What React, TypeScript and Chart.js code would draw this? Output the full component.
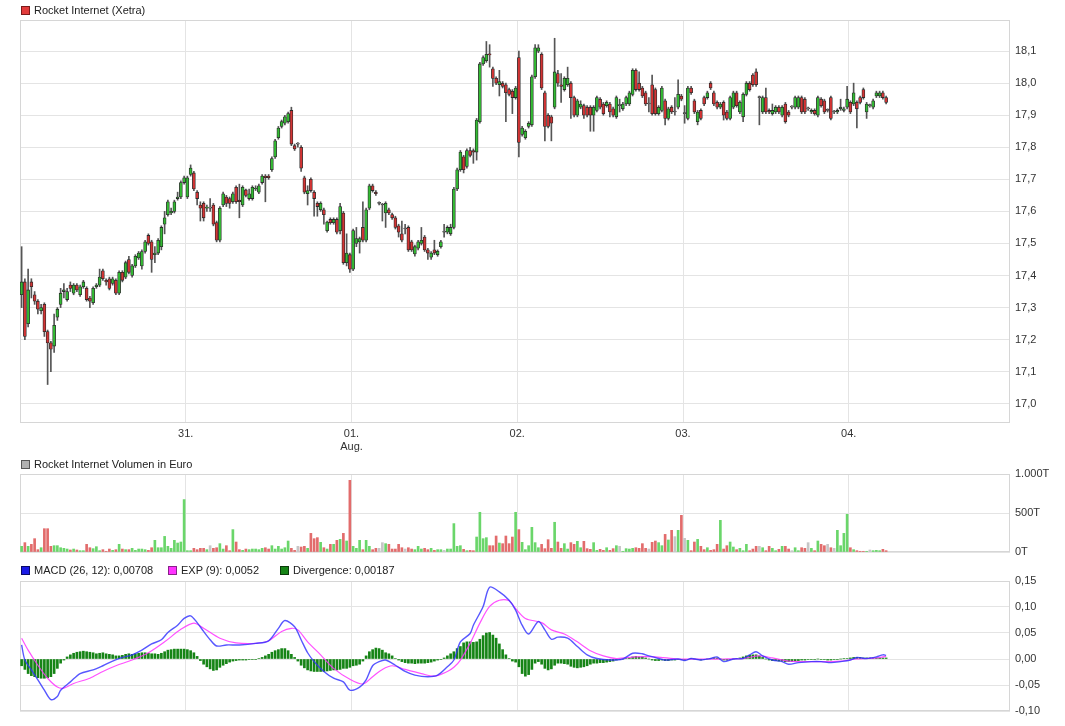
import React, { useEffect, useRef } from 'react';
import { Chart, registerables } from 'chart.js';

Chart.register(...registerables);

// ---------- DATA ----------
const dayTickPositions = [50.5, 101.5, 152.5, 203.5, 254.5];
const dayTickLabels: string[][] = [['31.'], ['01.', 'Aug.'], ['02.'], ['03.'], ['04.']];
const priceTicks = [17.0, 17.1, 17.2, 17.3, 17.4, 17.5, 17.6, 17.7, 17.8, 17.9, 18.0, 18.1];
const volumeTicks = [0, 500, 1000];
const volumeTickLabels = ['0T', '500T', '1.000T'];
const macdTicks = [-0.1, -0.05, 0, 0.05, 0.1, 0.15];

// [open, high, low, close] per 10-minute candle
const candleOHLC: number[][] = [
  [17.34, 17.49, 17.30, 17.38], [17.38, 17.39, 17.20, 17.21], [17.25, 17.42, 17.24, 17.355], [17.38, 17.39, 17.33, 17.365],
  [17.34, 17.35, 17.31, 17.32], [17.32, 17.325, 17.28, 17.295], [17.29, 17.31, 17.28, 17.30], [17.31, 17.315, 17.21, 17.225],
  [17.225, 17.23, 17.06, 17.19], [17.19, 17.195, 17.10, 17.17], [17.18, 17.28, 17.16, 17.245], [17.27, 17.30, 17.26, 17.295],
  [17.31, 17.36, 17.30, 17.345], [17.35, 17.375, 17.33, 17.355], [17.325, 17.36, 17.32, 17.35], [17.37, 17.38, 17.35, 17.36],
  [17.345, 17.375, 17.34, 17.37], [17.37, 17.375, 17.35, 17.355], [17.34, 17.37, 17.335, 17.365], [17.365, 17.385, 17.36, 17.38],
  [17.36, 17.365, 17.32, 17.325], [17.33, 17.335, 17.30, 17.32], [17.315, 17.365, 17.31, 17.36], [17.365, 17.375, 17.36, 17.37],
  [17.37, 17.42, 17.365, 17.395], [17.415, 17.42, 17.385, 17.39], [17.385, 17.39, 17.37, 17.38], [17.39, 17.395, 17.355, 17.36],
  [17.375, 17.395, 17.37, 17.39], [17.385, 17.39, 17.34, 17.345], [17.345, 17.415, 17.34, 17.41], [17.41, 17.415, 17.38, 17.385],
  [17.395, 17.445, 17.39, 17.44], [17.45, 17.46, 17.405, 17.41], [17.40, 17.435, 17.395, 17.43], [17.43, 17.465, 17.425, 17.46],
  [17.455, 17.475, 17.45, 17.47], [17.43, 17.48, 17.42, 17.475], [17.475, 17.51, 17.47, 17.505], [17.525, 17.53, 17.495, 17.50],
  [17.505, 17.51, 17.41, 17.45], [17.465, 17.49, 17.44, 17.47], [17.47, 17.515, 17.465, 17.51], [17.49, 17.555, 17.48, 17.55],
  [17.56, 17.60, 17.53, 17.58], [17.59, 17.635, 17.585, 17.63], [17.595, 17.61, 17.59, 17.60], [17.60, 17.635, 17.595, 17.63],
  [17.64, 17.66, 17.635, 17.645], [17.645, 17.695, 17.64, 17.69], [17.69, 17.71, 17.685, 17.705],
  // 31.
  [17.645, 17.71, 17.64, 17.705], [17.715, 17.745, 17.71, 17.735], [17.72, 17.725, 17.665, 17.67], [17.66, 17.665, 17.62, 17.64],
  [17.62, 17.63, 17.57, 17.61], [17.625, 17.63, 17.57, 17.58], [17.61, 17.62, 17.60, 17.612], [17.61, 17.64, 17.60, 17.61],
  [17.62, 17.625, 17.555, 17.56], [17.565, 17.57, 17.505, 17.51], [17.51, 17.615, 17.505, 17.61], [17.62, 17.66, 17.615, 17.655],
  [17.645, 17.65, 17.615, 17.625], [17.64, 17.645, 17.61, 17.625], [17.63, 17.66, 17.625, 17.655], [17.675, 17.68, 17.625, 17.63],
  [17.635, 17.685, 17.58, 17.63], [17.62, 17.68, 17.615, 17.675], [17.667, 17.67, 17.645, 17.65], [17.64, 17.67, 17.635, 17.655],
  [17.64, 17.68, 17.635, 17.675], [17.67, 17.68, 17.665, 17.672], [17.66, 17.685, 17.655, 17.68], [17.69, 17.715, 17.685, 17.71],
  [17.71, 17.715, 17.63, 17.705], [17.71, 17.715, 17.70, 17.705], [17.73, 17.77, 17.725, 17.765], [17.77, 17.825, 17.765, 17.82],
  [17.83, 17.865, 17.825, 17.86], [17.865, 17.885, 17.86, 17.88], [17.875, 17.90, 17.87, 17.895], [17.88, 17.91, 17.875, 17.905],
  [17.915, 17.925, 17.805, 17.81], [17.805, 17.81, 17.79, 17.795], [17.81, 17.815, 17.80, 17.81], [17.80, 17.805, 17.725, 17.735],
  [17.705, 17.71, 17.655, 17.66], [17.655, 17.68, 17.62, 17.665], [17.70, 17.705, 17.66, 17.665], [17.66, 17.665, 17.585, 17.64],
  [17.625, 17.63, 17.585, 17.615], [17.605, 17.63, 17.60, 17.625], [17.605, 17.61, 17.56, 17.59], [17.54, 17.57, 17.535, 17.567],
  [17.575, 17.58, 17.56, 17.565], [17.565, 17.58, 17.56, 17.575], [17.575, 17.58, 17.53, 17.535], [17.54, 17.625, 17.53, 17.615],
  [17.595, 17.60, 17.435, 17.44], [17.44, 17.53, 17.43, 17.47], [17.465, 17.47, 17.41, 17.42],
  // 01. Aug.
  [17.42, 17.545, 17.415, 17.54], [17.50, 17.55, 17.49, 17.515], [17.505, 17.52, 17.47, 17.515], [17.55, 17.63, 17.505, 17.51],
  [17.51, 17.61, 17.505, 17.605], [17.61, 17.685, 17.605, 17.68], [17.68, 17.685, 17.66, 17.665], [17.66, 17.665, 17.65, 17.655],
  [17.625, 17.63, 17.62, 17.625], [17.62, 17.625, 17.57, 17.62], [17.595, 17.63, 17.55, 17.625], [17.605, 17.61, 17.59, 17.595],
  [17.59, 17.595, 17.575, 17.58], [17.58, 17.585, 17.545, 17.55], [17.555, 17.56, 17.52, 17.535], [17.53, 17.57, 17.505, 17.51],
  [17.545, 17.56, 17.53, 17.545], [17.55, 17.555, 17.475, 17.48], [17.505, 17.51, 17.475, 17.48], [17.467, 17.495, 17.46, 17.49],
  [17.485, 17.51, 17.48, 17.505], [17.50, 17.55, 17.495, 17.51], [17.52, 17.525, 17.475, 17.48], [17.48, 17.485, 17.45, 17.47],
  [17.457, 17.475, 17.45, 17.47], [17.48, 17.51, 17.465, 17.47], [17.465, 17.48, 17.46, 17.476], [17.49, 17.51, 17.485, 17.505],
  [17.535, 17.56, 17.52, 17.535], [17.535, 17.555, 17.53, 17.55], [17.53, 17.56, 17.525, 17.55], [17.55, 17.675, 17.545, 17.67],
  [17.67, 17.735, 17.665, 17.73], [17.73, 17.79, 17.725, 17.785], [17.77, 17.775, 17.72, 17.73], [17.74, 17.795, 17.735, 17.79],
  [17.79, 17.80, 17.77, 17.775], [17.79, 17.795, 17.75, 17.785], [17.785, 17.89, 17.76, 17.885], [17.88, 18.065, 17.875, 18.06],
  [18.06, 18.085, 18.055, 18.08], [18.07, 18.13, 18.065, 18.09], [18.09, 18.12, 18.05, 18.088], [18.045, 18.05, 17.99, 18.015],
  [18.015, 18.02, 17.995, 18.00], [17.995, 18.04, 17.96, 18.005], [18.00, 18.005, 17.985, 17.99], [17.995, 18.00, 17.88, 17.97],
  [17.98, 17.985, 17.96, 17.965], [17.975, 17.98, 17.905, 17.955], [17.955, 17.99, 17.95, 17.985],
  // 02.
  [18.08, 18.10, 17.77, 17.815], [17.84, 17.865, 17.835, 17.86], [17.83, 17.855, 17.825, 17.85], [17.865, 17.88, 17.86, 17.875],
  [17.87, 18.025, 17.865, 18.02], [18.02, 18.12, 18.015, 18.11], [18.10, 18.12, 18.095, 18.11], [18.09, 18.095, 17.98, 17.985],
  [17.97, 17.975, 17.82, 17.865], [17.90, 17.905, 17.86, 17.865], [17.895, 17.90, 17.82, 17.875], [17.925, 18.14, 17.92, 18.035],
  [18.03, 18.04, 17.99, 18.00], [17.995, 18.03, 17.94, 17.99], [17.98, 18.02, 17.975, 18.015], [17.995, 18.05, 17.99, 18.015],
  [18.00, 18.005, 17.89, 17.955], [17.955, 17.96, 17.895, 17.90], [17.90, 17.95, 17.895, 17.945], [17.925, 17.945, 17.92, 17.935],
  [17.93, 17.935, 17.89, 17.90], [17.925, 17.93, 17.895, 17.90], [17.925, 17.93, 17.85, 17.90], [17.90, 17.93, 17.85, 17.925],
  [17.915, 17.96, 17.91, 17.955], [17.95, 17.955, 17.92, 17.925], [17.935, 17.94, 17.90, 17.905], [17.93, 17.945, 17.925, 17.94],
  [17.935, 17.94, 17.895, 17.91], [17.92, 17.925, 17.895, 17.90], [17.895, 17.96, 17.89, 17.955], [17.93, 17.95, 17.91, 17.93],
  [17.92, 17.94, 17.915, 17.935], [17.935, 17.96, 17.93, 17.955], [17.935, 17.975, 17.93, 17.97], [17.965, 18.045, 17.96, 18.04],
  [18.04, 18.045, 17.975, 17.98], [18.00, 18.035, 17.975, 17.98], [17.985, 17.99, 17.955, 17.96], [17.97, 17.975, 17.93, 17.935],
  [17.935, 17.955, 17.91, 17.935], [17.995, 18.025, 17.90, 17.905], [17.98, 17.985, 17.90, 17.905], [17.905, 17.93, 17.90, 17.925],
  [17.915, 17.99, 17.91, 17.985], [17.945, 17.95, 17.87, 17.89], [17.89, 17.925, 17.885, 17.92], [17.925, 17.93, 17.905, 17.91],
  [17.91, 17.955, 17.90, 17.91], [17.925, 18.01, 17.92, 17.965], [17.96, 17.965, 17.945, 17.95],
  // 03.
  [17.905, 17.93, 17.875, 17.905], [17.89, 17.99, 17.885, 17.985], [17.985, 17.99, 17.965, 17.97], [17.945, 17.95, 17.905, 17.91],
  [17.88, 17.915, 17.87, 17.91], [17.915, 17.92, 17.885, 17.89], [17.955, 17.96, 17.93, 17.935], [17.955, 17.975, 17.95, 17.97],
  [18.00, 18.005, 17.98, 17.985], [17.97, 17.975, 17.93, 17.935], [17.94, 17.945, 17.92, 17.925], [17.925, 17.94, 17.92, 17.935],
  [17.94, 17.945, 17.885, 17.90], [17.91, 17.915, 17.885, 17.89], [17.89, 17.96, 17.885, 17.955], [17.925, 17.975, 17.92, 17.97],
  [17.97, 17.975, 17.925, 17.93], [17.91, 17.945, 17.905, 17.94], [17.895, 17.97, 17.88, 17.965], [17.965, 18.005, 17.96, 18.00],
  [18.00, 18.005, 17.975, 17.98], [18.025, 18.03, 17.99, 17.995], [18.035, 18.045, 17.99, 17.995], [17.955, 17.96, 17.87, 17.955],
  [17.91, 17.96, 17.905, 17.955], [17.955, 17.985, 17.905, 17.91], [17.915, 17.92, 17.905, 17.91], [17.905, 17.935, 17.90, 17.915],
  [17.91, 17.93, 17.905, 17.925], [17.925, 17.93, 17.905, 17.91], [17.90, 17.93, 17.895, 17.925], [17.935, 17.94, 17.875, 17.88],
  [17.91, 17.915, 17.895, 17.90], [17.925, 17.93, 17.92, 17.925], [17.925, 17.96, 17.92, 17.955], [17.925, 17.96, 17.92, 17.955],
  [17.955, 17.96, 17.905, 17.91], [17.95, 17.955, 17.905, 17.91], [17.92, 17.925, 17.915, 17.92], [17.91, 17.92, 17.905, 17.915],
  [17.915, 17.92, 17.90, 17.905], [17.90, 17.96, 17.895, 17.955], [17.95, 17.955, 17.925, 17.93], [17.945, 17.95, 17.905, 17.91],
  [17.915, 17.92, 17.91, 17.915], [17.955, 17.96, 17.885, 17.89], [17.91, 17.915, 17.905, 17.91], [17.91, 17.92, 17.905, 17.915],
  [17.92, 17.95, 17.915, 17.925], [17.915, 17.925, 17.91, 17.92], [17.925, 17.99, 17.92, 17.95],
  // 04.
  [17.94, 17.945, 17.905, 17.91], [17.935, 18.00, 17.93, 17.97], [17.94, 17.945, 17.86, 17.92], [17.955, 17.96, 17.935, 17.94],
  [17.98, 17.985, 17.95, 17.955], [17.91, 17.94, 17.89, 17.935], [17.93, 17.935, 17.925, 17.93], [17.925, 17.95, 17.92, 17.945],
  [17.96, 17.975, 17.955, 17.97], [17.96, 17.975, 17.955, 17.97], [17.97, 17.975, 17.95, 17.955], [17.955, 17.96, 17.935, 17.94],
];

// volume per candle, in thousands of euro (T)
const volumes = [
  73, 120, 73, 98, 171, 30, 55, 299, 299, 73, 81, 81, 55, 47, 38, 26, 38, 26, 17, 17,
  98, 55, 43, 68, 17, 30, 9, 38, 21, 30, 98, 38, 30, 30, 47, 21, 38, 38, 30, 21,
  55, 150, 55, 55, 200, 73, 47, 150, 115, 128, 672,
  17, 17, 47, 30, 47, 47, 30, 81, 47, 55, 107, 38, 81, 17, 287, 128, 30, 21, 38, 30,
  38, 38, 30, 47, 55, 38, 81, 38, 73, 38, 55, 141, 47, 21, 73, 64, 73, 47, 239, 171,
  184, 124, 55, 38, 98, 98, 150, 162, 239, 141, 919,
  73, 47, 150, 30, 150, 73, 30, 47, 47, 120, 107, 98, 38, 38, 98, 55, 38, 55, 38, 30,
  73, 38, 47, 30, 47, 21, 30, 30, 21, 38, 38,
  364, 73, 81, 34, 17, 21, 17, 192, 509, 171, 184, 81, 81, 205, 115, 107, 205, 107, 192, 509,
  287, 124, 30, 81, 316, 120, 55, 98, 43, 158, 47, 381, 128, 47, 107, 38, 120, 98, 137, 55,
  137, 43, 34, 120, 21, 34, 21, 55, 21, 43, 81, 73, 9, 43, 38, 47, 55, 47, 107, 47,
  38, 124, 141, 120, 81, 226, 154, 278, 197, 278, 470,
  175, 150, 17, 128, 162, 73, 30, 55, 21, 30, 98, 406, 38, 81, 128, 64, 30, 47, 17, 98,
  17, 38, 73, 73, 55, 17, 73, 47, 17, 34, 73, 73, 38, 17, 55, 17, 55, 47, 120, 47,
  17, 141, 98, 81, 98, 55, 47, 278, 81, 239, 483,
  55, 30, 17, 9, 9, 9, 26, 17, 21, 17, 34, 17,
];

// MACD line (candle index, value)
const macdIdx = [0, 1, 3, 5, 7, 9, 11, 12, 15, 18, 22, 25, 28, 31, 34, 37, 40, 43, 45, 48, 50, 52, 54, 56, 58, 60, 63, 67, 72, 76,
  79, 81, 84, 86, 88, 90, 93, 96, 99, 101, 104, 106, 108, 110, 112, 115, 118, 121, 125, 128, 131, 133, 135, 138, 139, 142, 144,
  147, 150, 152, 154, 156, 159, 161, 163, 165, 168, 171, 174, 177, 181, 185, 188, 191, 193, 196, 198, 202, 204, 206, 209, 212,
  214, 216, 219, 222, 224, 226, 228, 231, 234, 236, 239, 243, 246, 249, 252, 255, 257, 260, 263, 265, 266];
const macdVal = [0.027, -0.002, -0.021, -0.040, -0.060, -0.078, -0.072, -0.060, -0.044, -0.028, -0.021, -0.013, -0.004, 0.003,
  0.008, 0.017, 0.029, 0.037, 0.051, 0.065, 0.078, 0.083, 0.070, 0.053, 0.037, 0.025, 0.027, 0.027, 0.030, 0.035, 0.059, 0.074,
  0.062, 0.037, 0.012, -0.005, -0.024, -0.037, -0.044, -0.060, -0.054, -0.040, -0.013, -0.005, -0.002, -0.012, -0.024, -0.031,
  -0.034, -0.031, -0.015, -0.002, 0.033, 0.049, 0.065, 0.101, 0.138, 0.129, 0.113, 0.094, 0.065, 0.048, 0.072, 0.056, 0.038,
  0.042, 0.040, 0.024, 0.008, 0.001, -0.002, 0.000, 0.011, 0.010, 0.006, 0.001, -0.002, 0.000, -0.003, 0.001, -0.002, 0.001,
  0.004, -0.005, 0.000, 0.001, 0.008, 0.014, 0.006, -0.002, -0.005, -0.010, -0.007, -0.005, -0.005, -0.007, -0.005, -0.002,
  0.003, 0.001, 0.004, 0.008, 0.007];

// EXP (9) signal line (candle index, value)
const signalIdx = [0, 2, 5, 8, 11, 13, 16, 21, 25, 29, 34, 39, 44, 49, 53, 56, 61, 66, 72, 76, 80, 83, 85, 88, 92, 96, 101, 105,
  108, 111, 114, 118, 123, 127, 131, 133, 135, 138, 141, 144, 147, 150, 152, 155, 160, 163, 167, 171, 175, 179, 183, 189, 195,
  202, 209, 216, 222, 227, 231, 236, 245, 252, 257, 263, 266];
const signalVal = [0.040, 0.017, -0.012, -0.037, -0.054, -0.056, -0.047, -0.037, -0.024, -0.013, -0.002, 0.012, 0.033, 0.057,
  0.069, 0.059, 0.040, 0.031, 0.030, 0.035, 0.053, 0.059, 0.056, 0.033, 0.008, -0.018, -0.039, -0.048, -0.034, -0.020, -0.013,
  -0.020, -0.028, -0.033, -0.024, -0.016, -0.002, 0.030, 0.069, 0.101, 0.113, 0.112, 0.097, 0.078, 0.070, 0.056, 0.048, 0.033,
  0.016, 0.006, 0.001, 0.004, 0.004, 0.000, 0.000, 0.000, 0.001, 0.006, 0.002, -0.004, -0.005, -0.004, 0.000, 0.002, 0.005];

// Divergence histogram per candle
const divergence = [
  -0.013, -0.020, -0.028, -0.032, -0.034, -0.036, -0.037, -0.037, -0.036, -0.034, -0.028, -0.018, -0.008, -0.002, 0.004, 0.008,
  0.011, 0.013, 0.014, 0.015, 0.014, 0.013, 0.012, 0.010, 0.011, 0.012, 0.010, 0.009, 0.008, 0.006, 0.006, 0.007, 0.009, 0.010,
  0.009, 0.010, 0.011, 0.012, 0.012, 0.011, 0.010, 0.010, 0.009, 0.011, 0.014, 0.017, 0.018, 0.019, 0.019, 0.019, 0.019,
  0.018, 0.016, 0.012, 0.005, -0.003, -0.010, -0.015, -0.019, -0.022, -0.021, -0.016, -0.012, -0.009, -0.006, -0.004, -0.003,
  -0.002, -0.002, -0.002, -0.001, -0.001, -0.001, 0.001, 0.003, 0.006, 0.009, 0.013, 0.016, 0.018, 0.020, 0.020, 0.016, 0.009,
  0.003, -0.004, -0.012, -0.017, -0.021, -0.023, -0.024, -0.024, -0.024, -0.024, -0.023, -0.022, -0.021, -0.021, -0.020,
  -0.018, -0.018, -0.016,
  -0.013, -0.012, -0.010, -0.004, 0.006, 0.014, 0.018, 0.021, 0.020, 0.017, 0.012, 0.010, 0.006, 0.001, -0.002, -0.005, -0.007,
  -0.008, -0.008, -0.009, -0.008, -0.008, -0.008, -0.007, -0.006, -0.004, -0.002, -0.001, 0.002, 0.006, 0.010, 0.014, 0.020,
  0.024, 0.031, 0.033, 0.033, 0.032, 0.033, 0.038, 0.045, 0.050, 0.051, 0.046, 0.040, 0.029, 0.018, 0.008, 0.001, -0.004, -0.006,
  -0.015, -0.028, -0.033, -0.030, -0.020, -0.008, -0.005, -0.010, -0.018, -0.021, -0.019, -0.012, -0.008, -0.008, -0.009,
  -0.010, -0.014, -0.016, -0.017, -0.016, -0.015, -0.013, -0.010, -0.008, -0.008, -0.007, -0.007, -0.006, -0.005, -0.004,
  -0.002, -0.001, 0.000, 0.001, 0.002, 0.004, 0.005, 0.004, 0.004, 0.002, 0.000, -0.002, -0.003, -0.003, -0.002, -0.003,
  -0.003, -0.002, -0.002, -0.001, -0.001,
  -0.002, -0.001, 0.001, 0.000, -0.001, -0.002, -0.001, 0.000, 0.001, 0.002, 0.002, 0.000, -0.002, -0.002, -0.001, 0.000,
  0.001, 0.002, 0.004, 0.006, 0.007, 0.008, 0.008, 0.006, 0.003, 0.000, -0.002, -0.003, -0.003, -0.004, -0.004, -0.005,
  -0.005, -0.005, -0.004, -0.003, -0.002, -0.002, -0.001, -0.001, -0.001, 0.000, -0.001, -0.001, -0.002, -0.002, -0.001,
  -0.001, 0.000, 0.001, 0.001,
  0.002, 0.003, 0.003, 0.003, 0.002, 0.002, 0.002, 0.002, 0.002, 0.002, 0.002, 0.002,
];

// ---------- STYLE ----------
const X_MIN = -0.5;
const X_MAX = 304.115;
const FONT = { family: '"Liberation Sans", Arial, sans-serif', size: 11 };
const TEXT = '#333333';
const GRID = '#e4e4e4';
const FRAME = '#d6d6d6';

const framePlugin = {
  id: 'frameBox',
  beforeDatasetsDraw(chart: any) {
    const { ctx, chartArea: a } = chart;
    ctx.save();
    ctx.strokeStyle = FRAME;
    ctx.lineWidth = 1;
    ctx.strokeRect(a.left + 0.5, a.top + 0.5, a.right - a.left - 1, a.bottom - a.top - 1);
    ctx.restore();
  },
};

function xScale(showLabels: boolean, height: number) {
  return {
    type: 'linear',
    min: X_MIN,
    max: X_MAX,
    offset: false,
    bounds: 'data',
    afterBuildTicks: (s: any) => {
      s.ticks = dayTickPositions.map((v) => ({ value: v }));
    },
    afterFit: (s: any) => {
      s.height = height;
    },
    grid: { color: GRID, drawTicks: false, offset: false },
    border: { display: false },
    ticks: {
      display: showLabels,
      autoSkip: false,
      maxRotation: 0,
      padding: 4,
      font: FONT,
      color: TEXT,
      callback: (_v: any, i: number) => dayTickLabels[i],
    },
  };
}

function yScale(min: number, max: number, ticks: number[], fmt: (v: number, i: number) => string) {
  return {
    type: 'linear',
    position: 'right',
    min,
    max,
    bounds: 'data',
    afterBuildTicks: (s: any) => {
      s.ticks = ticks.map((v) => ({ value: v }));
    },
    afterFit: (s: any) => {
      s.width = 55;
    },
    grid: { color: GRID, drawTicks: false },
    border: { display: false },
    ticks: { padding: 5, font: FONT, color: TEXT, callback: (v: any, i: number) => fmt(Number(v), i) },
  };
}

const baseOptions = {
  responsive: false,
  maintainAspectRatio: false,
  animation: false,
  devicePixelRatio: 1,
  events: [],
  plugins: { legend: { display: false }, tooltip: { enabled: false } },
};

const GREEN = '#33bb33';
const RED = '#d33434';
const DOJI = '#999999';

function candleColor(o: number, c: number) {
  if (c > o) return GREEN;
  if (c < o) return RED;
  return DOJI;
}

function volumeColor(o: number, c: number) {
  if (c > o) return '#6ad66a';
  if (c < o) return '#e26c6c';
  return '#c6c6c6';
}

function useChart(ref: React.RefObject<HTMLCanvasElement>, build: () => any) {
  useEffect(() => {
    if (!ref.current) return;
    const chart = new Chart(ref.current, build());
    return () => chart.destroy();
  }, []);
}

function Legend({ top, items }: { top: number; items: { left: number; color: string; border: string; text: string }[] }) {
  return (
    <>
      {items.map((it, k) => (
        <div key={k} style={{ position: 'absolute', left: it.left, top, height: 14, display: 'flex', alignItems: 'center', zIndex: 2 }}>
          <span
            style={{
              display: 'inline-block',
              width: 7,
              height: 7,
              background: it.color,
              border: `1px solid ${it.border}`,
              marginRight: 4,
            }}
          />
          <span style={{ fontFamily: FONT.family, fontSize: 11, color: '#222', whiteSpace: 'nowrap' }}>{it.text}</span>
        </div>
      ))}
    </>
  );
}

export default function App() {
  const priceRef = useRef<HTMLCanvasElement>(null);
  const volRef = useRef<HTMLCanvasElement>(null);
  const macdRef = useRef<HTMLCanvasElement>(null);

  useChart(priceRef, () => ({
    type: 'bar',
    data: {
      datasets: [
        {
          label: 'bodies',
          data: candleOHLC.map((c, i) => ({ x: i, y: [Math.min(c[0], c[3]), Math.max(c[0], c[3])] })),
          backgroundColor: candleOHLC.map((c) => candleColor(c[0], c[3])),
          borderColor: '#2a2a2a',
          borderWidth: 0.8,
          borderSkipped: false,
          barThickness: 3,
          minBarLength: 1,
          grouped: false,
          order: 1,
        },
        {
          label: 'wicks',
          data: candleOHLC.map((c, i) => ({ x: i, y: [c[2], c[1]] })),
          backgroundColor: '#555555',
          barThickness: 1,
          grouped: false,
          order: 2,
        },
      ],
    },
    options: {
      ...baseOptions,
      layout: { padding: { left: 20, top: 20, right: 0, bottom: 0 } },
      scales: {
        x: xScale(true, 32),
        y: yScale(16.94, 18.197, priceTicks, (v) => v.toFixed(1).replace('.', ',')),
      },
    },
    plugins: [framePlugin],
  }));

  useChart(volRef, () => ({
    type: 'bar',
    data: {
      datasets: [
        {
          label: 'volume',
          data: volumes.map((v, i) => ({ x: i, y: v })),
          backgroundColor: candleOHLC.map((c) => volumeColor(c[0], c[3])),
          barThickness: 2,
          grouped: false,
        },
      ],
    },
    options: {
      ...baseOptions,
      layout: { padding: { left: 20, top: 14, right: 0, bottom: 0 } },
      scales: {
        x: xScale(false, 12),
        y: yScale(0, 1000, volumeTicks, (_v, i) => volumeTickLabels[i]),
      },
    },
    plugins: [framePlugin],
  }));

  useChart(macdRef, () => ({
    type: 'bar',
    data: {
      datasets: [
        {
          type: 'line',
          label: 'MACD',
          data: macdIdx.map((x, k) => ({ x, y: macdVal[k] })),
          borderColor: 'rgba(45,45,255,0.8)',
          borderWidth: 1.4,
          pointRadius: 0,
          tension: 0.3,
          order: 1,
        },
        {
          type: 'line',
          label: 'EXP',
          data: signalIdx.map((x, k) => ({ x, y: signalVal[k] })),
          borderColor: 'rgba(255,50,255,0.85)',
          borderWidth: 1.2,
          pointRadius: 0,
          tension: 0.3,
          order: 2,
        },
        {
          type: 'bar',
          label: 'Divergence',
          data: divergence.map((v, i) => ({ x: i, y: v })),
          backgroundColor: '#168416',
          barThickness: 2,
          grouped: false,
          order: 3,
        },
      ],
    },
    options: {
      ...baseOptions,
      layout: { padding: { left: 20, top: 16, right: 0, bottom: 0 } },
      scales: {
        x: xScale(false, 15),
        y: yScale(-0.1, 0.15, macdTicks, (v) => v.toFixed(2).replace('.', ',')),
      },
    },
    plugins: [framePlugin],
  }));

  return (
    <div style={{ position: 'absolute', left: 0, top: 0, width: 1065, height: 726, background: '#fff', overflow: 'hidden' }}>
      <canvas ref={priceRef} width={1065} height={455} style={{ position: 'absolute', left: 0, top: 0, display: 'block' }} />
      <canvas ref={volRef} width={1065} height={104} style={{ position: 'absolute', left: 0, top: 460, display: 'block' }} />
      <canvas ref={macdRef} width={1065} height={161} style={{ position: 'absolute', left: 0, top: 565, display: 'block' }} />
      <Legend top={3} items={[{ left: 21, color: '#e23b3b', border: '#7a1a1a', text: 'Rocket Internet (Xetra)' }]} />
      <Legend top={457} items={[{ left: 21, color: '#b0b0b0', border: '#555', text: 'Rocket Internet Volumen in Euro' }]} />
      <Legend
        top={563}
        items={[
          { left: 21, color: '#1a1ae6', border: '#0a0a66', text: 'MACD (26, 12): 0,00708' },
          { left: 168, color: '#ff33ff', border: '#882288', text: 'EXP (9): 0,0052' },
          { left: 280, color: '#168416', border: '#0a3a0a', text: 'Divergence: 0,00187' },
        ]}
      />
    </div>
  );
}
